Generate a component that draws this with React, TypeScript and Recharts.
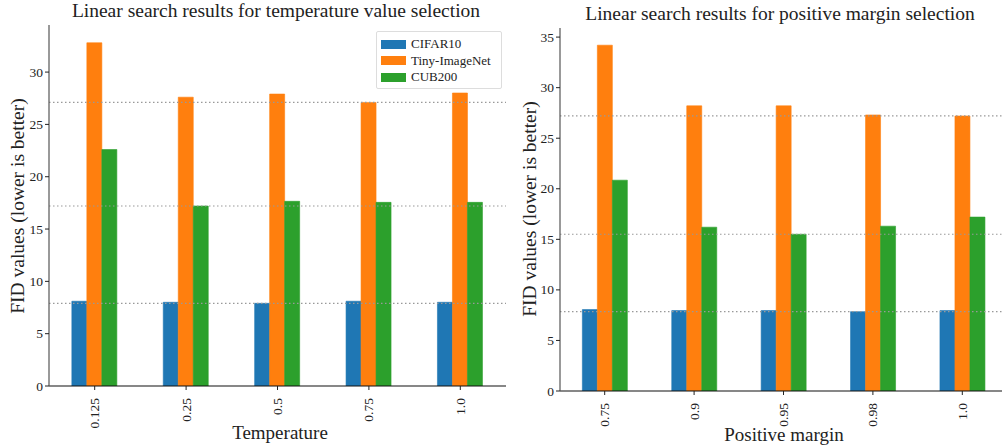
import { BarChart, Bar, XAxis, YAxis, ReferenceLine } from 'recharts'

const SERIES = ['CIFAR10', 'Tiny-ImageNet', 'CUB200']
const COLORS = ['#1f77b4', '#ff7f0e', '#2ca02c']

const TEMP_LABELS = ['0.125', '0.25', '0.5', '0.75', '1.0']
const TEMP_CIFAR = [8.1, 8.0, 7.9, 8.1, 8.0]
const TEMP_TINY = [32.8, 27.6, 27.9, 27.1, 28.0]
const TEMP_CUB = [22.6, 17.2, 17.65, 17.55, 17.55]
const TEMP_TICKS = [0, 5, 10, 15, 20, 25, 30]

const MARGIN_LABELS = ['0.75', '0.9', '0.95', '0.98', '1.0']
const MARGIN_CIFAR = [8.05, 7.95, 7.95, 7.85, 7.95]
const MARGIN_TINY = [34.2, 28.2, 28.2, 27.3, 27.2]
const MARGIN_CUB = [20.85, 16.2, 15.5, 16.3, 17.2]
const MARGIN_TICKS = [0, 5, 10, 15, 20, 25, 30, 35]

const FONT = 'Liberation Serif, serif'
const KEYS = ['cifar', 'tiny', 'cub']

function buildRows(labels: string[], a: number[], b: number[], c: number[]) {
  return labels.map((label, i) => ({ label, cifar: a[i], tiny: b[i], cub: c[i] }))
}

function RotTick({ x, y, payload }: any) {
  return (
    <text x={x} y={y + 6} transform={`rotate(-90 ${x} ${y + 6})`} textAnchor="end" dominantBaseline="central"
      fontSize={13.5} fill="#222" fontFamily={FONT}>
      {payload.value}
    </text>
  )
}

function YTick({ x, y, payload }: any) {
  return (
    <text x={x} y={y} textAnchor="end" dominantBaseline="central" fontSize={13.5} fill="#222" fontFamily={FONT}>
      {payload.value}
    </text>
  )
}

interface PanelProps {
  rows: Array<{ label: string; cifar: number; tiny: number; cub: number }>
  mins: number[]
  ticks: number[]
  yMax: number
  width: number
  yWidth: number
  top: number
  bottom: number
  right: number
}

function Panel({ rows, mins, ticks, yMax, width, yWidth, top, bottom, right }: PanelProps) {
  return (
    <BarChart width={width} height={447} data={rows} barCategoryGap="25%" barGap={0}
      margin={{ top, right, bottom, left: 0 }}>
      <XAxis dataKey="label" tick={<RotTick />} tickLine={{ stroke: '#222' }} tickSize={4}
        axisLine={{ stroke: '#111', strokeWidth: 1.2 }} height={50} interval={0} />
      <XAxis xAxisId="top" orientation="top" dataKey="label" height={0} tick={false} tickLine={false}
        axisLine={{ stroke: '#555', strokeWidth: 1.2 }} />
      <YAxis domain={[0, yMax]} ticks={ticks} width={yWidth} tickSize={4} tickMargin={2}
        tick={<YTick />} tickLine={{ stroke: '#222' }}
        axisLine={{ stroke: '#555', strokeWidth: 1.2 }} allowDataOverflow />
      <YAxis yAxisId="right" orientation="right" width={0} tick={false} tickLine={false}
        axisLine={{ stroke: '#111', strokeWidth: 1.2 }} />
      {mins.map((m, i) => (
        <ReferenceLine key={i} y={m} stroke="#999" strokeWidth={1.2} strokeDasharray="1.5 2.5" />
      ))}
      {KEYS.map((k, i) => (
        <Bar key={k} dataKey={k} name={SERIES[i]} fill={COLORS[i]} stroke={COLORS[i]} strokeWidth={0.6}
          isAnimationActive={false} />
      ))}
    </BarChart>
  )
}

const abs = (s: React.CSSProperties): React.CSSProperties => ({ position: 'absolute', fontFamily: FONT, color: '#222', whiteSpace: 'nowrap', ...s })

export default function App() {
  const tempRows = buildRows(TEMP_LABELS, TEMP_CIFAR, TEMP_TINY, TEMP_CUB)
  const marginRows = buildRows(MARGIN_LABELS, MARGIN_CIFAR, MARGIN_TINY, MARGIN_CUB)
  const tempMins = [TEMP_CIFAR, TEMP_TINY, TEMP_CUB].map(s => Math.min(...s))
  const marginMins = [MARGIN_CIFAR, MARGIN_TINY, MARGIN_CUB].map(s => Math.min(...s))

  return (
    <div style={{ position: 'absolute', left: 0, top: 0, width: 1002, height: 447, overflow: 'hidden', background: '#fff', fontFamily: FONT }}>
      <div style={{ position: 'absolute', left: 0, top: 0 }}>
        <Panel rows={tempRows} mins={tempMins} ticks={TEMP_TICKS} yMax={34.5} width={510} yWidth={49}
          top={25} bottom={11} right={4} />
      </div>
      <div style={{ position: 'absolute', left: 500, top: 0 }}>
        <Panel rows={marginRows} mins={marginMins} ticks={MARGIN_TICKS} yMax={35.9} width={510} yWidth={60}
          top={28} bottom={6} right={3} />
      </div>

      <div style={abs({ left: 276, top: 0, transform: 'translateX(-50%)', height: 27, lineHeight: '22px', fontSize: 19.5, background: '#fff', padding: '0 4px', zIndex: 2 })}>
        Linear search results for temperature value selection
      </div>
      <div style={abs({ left: 780, top: 3, transform: 'translateX(-50%)', lineHeight: '22px', fontSize: 19.5 })}>
        Linear search results for positive margin selection
      </div>

      <div style={abs({ left: 18 - 150, top: 206 - 11, width: 300, textAlign: 'center', lineHeight: '22px', fontSize: 19.5, transform: 'rotate(-90deg)' })}>
        FID values (lower is better)
      </div>
      <div style={abs({ left: 530 - 150, top: 209 - 11, width: 300, textAlign: 'center', lineHeight: '22px', fontSize: 19.5, transform: 'rotate(-90deg)' })}>
        FID values (lower is better)
      </div>

      <div style={abs({ left: 280, top: 433 - 11, transform: 'translateX(-50%)', lineHeight: '22px', fontSize: 19 })}>
        Temperature
      </div>
      <div style={abs({ left: 784, top: 435 - 11, transform: 'translateX(-50%)', lineHeight: '22px', fontSize: 19 })}>
        Positive margin
      </div>

      <div style={abs({ left: 376, top: 31, width: 126, height: 58, border: '1px solid #ddd', borderRadius: 2, background: 'rgba(255,255,255,0.8)', boxSizing: 'border-box', padding: '4px 0 0 4px', zIndex: 2 })}>
        {SERIES.map((s, i) => (
          <div key={s} style={{ display: 'flex', alignItems: 'center', height: 16.5, fontSize: 13 }}>
            <span style={{ display: 'inline-block', width: 25, height: 9, background: COLORS[i], marginRight: 5 }} />
            {s}
          </div>
        ))}
      </div>
    </div>
  )
}
